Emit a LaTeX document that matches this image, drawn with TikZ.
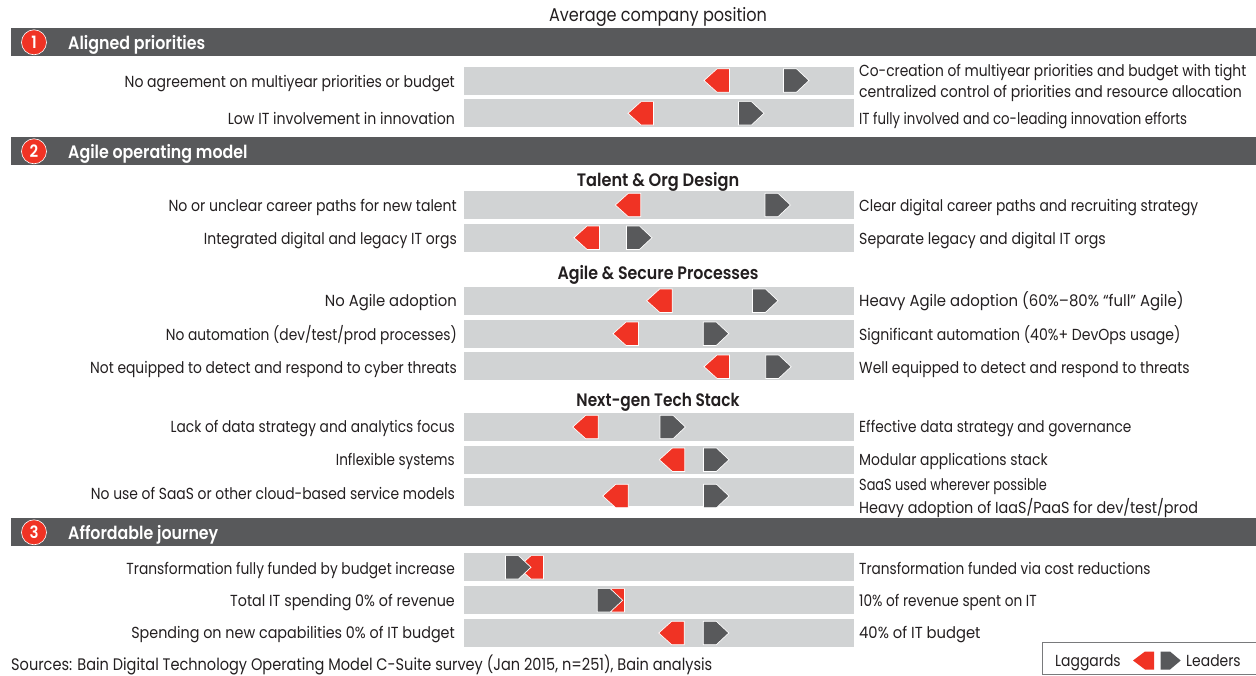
\documentclass[tikz,border=0pt]{standalone}
\usepackage{graphicx}
\usepackage{fontspec}
\setmainfont{Poppins}[FakeStretch=0.87]
\newfontfamily\boldf{Poppins SemiBold}[FakeStretch=0.88]
\definecolor{dk}{HTML}{58595B}
\definecolor{bar}{HTML}{D1D3D4}
\definecolor{rd}{HTML}{F03324}
\definecolor{tx}{HTML}{231F20}
\tikzset{
 x=1pt,y=-1pt,
 lbl/.style={font=\fontsize{16}{18}\selectfont,text=tx,inner sep=0pt,text height=14pt,text depth=2pt},
 lbll/.style={lbl,anchor=east},
 lblr/.style={lbl,anchor=west},
 srcl/.style={lbl,anchor=west,font=\fontsize{16.7}{18}\selectfont},
 ttl/.style={lbl,font=\fontsize{18.5}{20}\selectfont},
 head/.style={font=\boldf\fontsize{18}{20}\selectfont,text=white,anchor=west,inner sep=0pt,text height=14pt,text depth=2pt},
 sub/.style={font=\boldf\fontsize{18}{20}\selectfont,text=tx,inner sep=0pt,text height=14pt,text depth=2pt},
 band/.style={fill=dk,draw=none},
 barbox/.style={fill=bar,draw=none},
 num/.style={circle,fill=rd,draw=white,line width=.6pt,minimum size=25pt,inner sep=0pt,text=white,font=\boldf\fontsize{17}{18}\selectfont},
 mk/.style={draw=white,line width=.7pt,line join=miter},
 frame/.style={draw=dk!80,line width=.8pt}
}
\newcommand{\sx}[2]{\scalebox{#1}[1]{#2}}
\newcommand{\lag}[2]{\filldraw[mk,fill=rd] (#1,#2) -- (#1+13,#2-11.7) -- (#1+25.5,#2-11.7) -- (#1+25.5,#2+11.7) -- (#1+13,#2+11.7) -- cycle;}
\newcommand{\lead}[2]{\filldraw[mk,fill=dk] (#1,#2-11.7) -- (#1+13,#2-11.7) -- (#1+25.5,#2) -- (#1+13,#2+11.7) -- (#1,#2+11.7) -- cycle;}
\newcommand{\hdr}[3]{\fill[band] (11,#1) rectangle (1256,#1+28);
 \node[num] (n#2) at (34,#1+14.3) {#2};
 \node[head] (h#2) at (68,#1+15) {#3};}
\begin{document}
\begin{tikzpicture}
\useasboundingbox (0,0) rectangle (1256,675);
\fill[white] (0,0) rectangle (1256,675);
\node[ttl,anchor=center] (title) at (658,15) {Average company position};
\hdr{28}{1}{Aligned priorities}
\hdr{137}{2}{Agile operating model}
\hdr{518}{3}{Affordable journey}
% bars
\foreach \y in {67,99,191,224,287,320,352,413,446,478,553,586,619} {\fill[barbox] (464,\y) rectangle (854,\y+28);}
% markers
\lag{704}{80.5}\lead{783.5}{80.5}
\lag{628}{113.3}\lead{738.5}{113.3}
\lag{615.3}{205}\lead{765}{205}
\lag{574}{237.7}\lead{626.5}{237.7}
\lag{646.7}{300.7}\lead{752.5}{300.7}
\lag{613}{333.7}\lead{703.3}{333.7}
\lag{704}{366.7}\lead{765.7}{366.7}
\lag{572.7}{427}\lead{660}{427}
\lag{659.3}{459.7}\lead{703.5}{459.7}
\lag{602.7}{496}\lead{703.5}{496}
\lag{518}{567.3}\lead{505.5}{567.3}
\lag{599}{600.3}\lead{597.2}{600.3}
\lag{658.7}{633}\lead{703.3}{633}
% subheads
\node[sub] (s1) at (658,180) {\sx{1.02}{Talent \& Org Design}};
\node[sub] (s2) at (658,273) {Agile \& Secure Processes};
\node[sub] (s3) at (658,400) {\sx{.97}{Next-gen Tech Stack}};
% left
\node[lbll] (l1) at (455,81) {\sx{1.006}{No agreement on multiyear priorities or budget}};
\node[lbll] (l2) at (455,118) {\sx{1.013}{Low IT involvement in innovation}};
\node[lbll] (l3) at (457,205) {\sx{1.01}{No or unclear career paths for new talent}};
\node[lbll] (l4) at (457,238) {\sx{1.004}{Integrated digital and legacy IT orgs}};
\node[lbll] (l5) at (457,300.5) {\sx{1.065}{No Agile adoption}};
\node[lbll] (l6) at (457,334) {\sx{.99}{No automation (dev/test/prod processes)}};
\node[lbll] (l7) at (457,367) {\sx{.995}{Not equipped to detect and respond to cyber threats}};
\node[lbll] (l8) at (455,426.5) {\sx{.99}{Lack of data strategy and analytics focus}};
\node[lbll] (l9) at (455,459.5) {\sx{.975}{Inflexible systems}};
\node[lbll] (l10) at (455,493) {\sx{.997}{No use of SaaS or other cloud-based service models}};
\node[lbll] (l11) at (455,568) {\sx{.99}{Transformation fully funded by budget increase}};
\node[lbll] (l12) at (455,600) {\sx{1.027}{Total IT spending 0\% of revenue}};
\node[lbll] (l13) at (455,632.5) {\sx{1.029}{Spending on new capabilities 0\% of IT budget}};
% right
\node[lblr] (r1a) at (859,70) {\sx{.992}{Co-creation of multiyear priorities and budget with tight}};
\node[lblr] (r1b) at (859,91) {\sx{1.008}{centralized control of priorities and resource allocation}};
\node[lblr] (r2) at (859,118) {\sx{.956}{IT fully involved and co-leading innovation efforts}};
\node[lblr] (r3) at (859,205) {\sx{.994}{Clear digital career paths and recruiting strategy}};
\node[lblr] (r4) at (859,238) {\sx{1.016}{Separate legacy and digital IT orgs}};
\node[lblr] (r5) at (859,300.5) {\sx{1.07}{Heavy Agile adoption (60\%–80\% “full” Agile)}};
\node[lblr] (r6) at (859,334) {\sx{1.01}{Significant automation (40\%+ DevOps usage)}};
\node[lblr] (r7) at (859,367) {Well equipped to detect and respond to threats};
\node[lblr] (r8) at (859,426.5) {\sx{.985}{Effective data strategy and governance}};
\node[lblr] (r9) at (859,459.5) {Modular applications stack};
\node[lblr] (r10a) at (859,484) {\sx{.926}{SaaS used wherever possible}};
\node[lblr] (r10b) at (859,507) {\sx{1.034}{Heavy adoption of IaaS/PaaS for dev/test/prod}};
\node[lblr] (r11) at (859,568) {\sx{.983}{Transformation funded via cost reductions}};
\node[lblr] (r12) at (859,600) {\sx{.983}{10\% of revenue spent on IT}};
\node[lblr] (r13) at (859,632.5) {\sx{1.06}{40\% of IT budget}};
\node[srcl] (src) at (11,664) {Sources: Bain Digital Technology Operating Model C-Suite survey (Jan 2015, n=251), Bain analysis};
% legend
\draw[frame] (1256,642.7) -- (1042.7,642.7) -- (1042.7,674.6) -- (1256,674.6);
\node[lblr] (lg1) at (1055,660) {Laggards};
\fill[rd] (1133,660.5) -- (1145,651.5) -- (1154,651.5) -- (1154,669.5) -- (1145,669.5) -- cycle;
\fill[dk] (1160.7,651.5) -- (1170,651.5) -- (1180.7,660.5) -- (1170,669.5) -- (1160.7,669.5) -- cycle;
\node[lblr] (lg2) at (1186,660) {Leaders};
\end{tikzpicture}
\end{document}
